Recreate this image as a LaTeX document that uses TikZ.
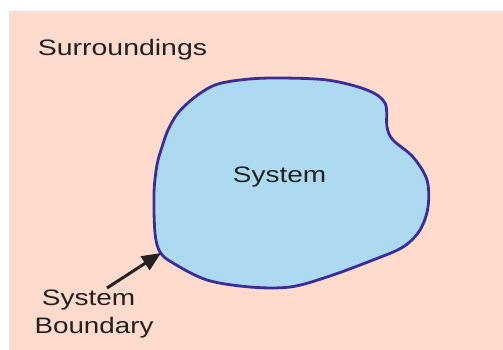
\documentclass[tikz,border=0pt]{standalone}
\usepackage{fontspec}
\setmainfont{Liberation Sans}
\usetikzlibrary{arrows.meta}
\definecolor{peach}{HTML}{FEDBCD}
\definecolor{sysblue}{HTML}{ADDAF1}
\definecolor{edge}{HTML}{3A2D9A}
\definecolor{txt}{HTML}{222222}
\tikzset{
  lbl/.style={text=txt, font=\fontsize{22.4}{28}\selectfont, inner sep=0pt},
  bound/.style={draw=edge, line width=2.8pt, fill=sysblue},
  pointer/.style={draw=txt, line width=3pt, -{Triangle[length=19pt,width=16pt]}}
}
\begin{document}
\begin{tikzpicture}[x=1pt,y=-1pt]
\useasboundingbox (0,0) rectangle (503,350);
\fill[white] (0,0) rectangle (503,350);
\fill[peach] (9,11) rectangle (503,350);
\draw[bound] plot[smooth cycle, tension=0.55] coordinates {
(240,80) (273,78) (327,80) (367,90) (385,103) (387,127) (393,140) (413,157)
(427,180) (428,207) (420,230) (403,247) (373,260) (327,277) (290,287) (250,287)
(207,280) (173,263) (160,252) (155,233) (154,193) (157,165) (162,147) (168,130)
(178,113) (195,97) (215,85)};
\coordinate (tip) at (161,253);
\node[lbl, anchor=base] (surr) at (122.5,56) {\scalebox{1.27}[1]{Surroundings}};
\node[lbl, anchor=base] (sys) at (279.5,182) {\scalebox{1.25}[1]{System}};
\node[lbl, anchor=base] (sb1) at (88.5,305) {\scalebox{1.25}[1]{System}};
\node[lbl, anchor=base] (sb2) at (94,333) {\scalebox{1.24}[1]{Boundary}};
\coordinate (tail) at (107,288);
\draw[pointer] (tail) -- (tip);
\end{tikzpicture}
\end{document}
